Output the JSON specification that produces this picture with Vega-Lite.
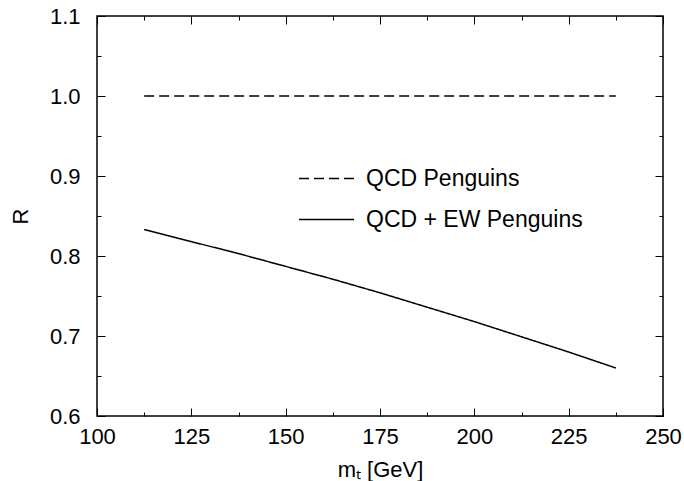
{
  "$schema": "https://vega.github.io/schema/vega-lite/v6.json",
  "width": 566,
  "height": 400,
  "autosize": "none",
  "padding": {"left": 97, "top": 16, "right": 21, "bottom": 65},
  "background": "white",
  "config": {
    "font": "Liberation Sans",
    "view": {"stroke": "black", "strokeWidth": 1.5},
    "axis": {
      "domain": false, "grid": false, "tickColor": "black", "tickWidth": 1,
      "labelFont": "Liberation Sans", "labelFontSize": 22, "labelColor": "black",
      "titleFont": "Liberation Sans", "titleFontSize": 22, "titleFontWeight": "normal", "titleColor": "black",
      "labelFlush": false, "labelOverlap": false
    },
    "legend": {"labelFont": "Liberation Sans", "labelFontSize": 23, "labelColor": "black", "labelLimit": 400}
  },
  "data": {
    "values": [
      {"series": "QCD Penguins", "m": 112.5, "R": 1.0},
      {"series": "QCD Penguins", "m": 237.5, "R": 1.0},
      {"series": "QCD + EW Penguins", "m": 112.5, "R": 0.833},
      {"series": "QCD + EW Penguins", "m": 125, "R": 0.818},
      {"series": "QCD + EW Penguins", "m": 137.5, "R": 0.803},
      {"series": "QCD + EW Penguins", "m": 150, "R": 0.787},
      {"series": "QCD + EW Penguins", "m": 162.5, "R": 0.771},
      {"series": "QCD + EW Penguins", "m": 175, "R": 0.754},
      {"series": "QCD + EW Penguins", "m": 187.5, "R": 0.736},
      {"series": "QCD + EW Penguins", "m": 200, "R": 0.718},
      {"series": "QCD + EW Penguins", "m": 212.5, "R": 0.699},
      {"series": "QCD + EW Penguins", "m": 225, "R": 0.68},
      {"series": "QCD + EW Penguins", "m": 237.5, "R": 0.66}
    ]
  },
  "resolve": {"axis": {"x": "independent", "y": "independent"}},
  "layer": [
    {
      "mark": {"type": "line", "color": "black", "strokeWidth": 1.5},
      "encoding": {
        "x": {"field": "m", "type": "quantitative",
              "scale": {"domain": [100, 250], "nice": false, "zero": false},
              "axis": {"orient": "bottom", "values": [100, 125, 150, 175, 200, 225, 250], "format": "d",
                       "offset": -8, "tickSize": 8, "labelPadding": 10, "title": "mₜ [GeV]", "titlePadding": 12}},
        "y": {"field": "R", "type": "quantitative",
              "scale": {"domain": [0.6, 1.1], "nice": false, "zero": false},
              "axis": {"orient": "left", "values": [0.6, 0.7, 0.8, 0.9, 1.0, 1.1], "format": ".1f",
                       "offset": -8, "tickSize": 8, "labelPadding": 17, "title": "R", "titlePadding": 17}},
        "strokeDash": {"field": "series", "type": "nominal",
                       "scale": {"domain": ["QCD Penguins", "QCD + EW Penguins"], "range": [[10, 5], [1, 0]]},
                       "legend": {"orient": "none", "legendX": 201, "legendY": 134, "title": null,
                                  "symbolType": "stroke", "symbolSize": 3025, "symbolStrokeWidth": 1.5,
                                  "symbolStrokeColor": "black", "labelOffset": 11, "rowPadding": -9, "padding": 0}}
      }
    },
    {
      "mark": {"type": "line", "opacity": 0},
      "encoding": {
        "x": {"field": "m", "type": "quantitative",
              "axis": {"orient": "top", "values": [100, 125, 150, 175, 200, 225, 250], "labels": false, "offset": -8, "tickSize": 8, "title": null}},
        "y": {"field": "R", "type": "quantitative",
              "axis": {"orient": "right", "values": [0.6, 0.7, 0.8, 0.9, 1.0, 1.1], "labels": false, "offset": -8, "tickSize": 8, "title": null}},
        "detail": {"field": "series"}
      }
    },
    {
      "mark": {"type": "line", "opacity": 0},
      "encoding": {
        "x": {"field": "m", "type": "quantitative",
              "axis": {"orient": "bottom", "values": [112.5, 137.5, 162.5, 187.5, 212.5, 237.5], "labels": false, "offset": -4, "tickSize": 4, "title": null}},
        "y": {"field": "R", "type": "quantitative",
              "axis": {"orient": "left", "values": [0.65, 0.75, 0.85, 0.95, 1.05], "labels": false, "offset": -4, "tickSize": 4, "title": null}},
        "detail": {"field": "series"}
      }
    },
    {
      "mark": {"type": "line", "opacity": 0},
      "encoding": {
        "x": {"field": "m", "type": "quantitative",
              "axis": {"orient": "top", "values": [112.5, 137.5, 162.5, 187.5, 212.5, 237.5], "labels": false, "offset": -4, "tickSize": 4, "title": null}},
        "y": {"field": "R", "type": "quantitative",
              "axis": {"orient": "right", "values": [0.65, 0.75, 0.85, 0.95, 1.05], "labels": false, "offset": -4, "tickSize": 4, "title": null}},
        "detail": {"field": "series"}
      }
    }
  ]
}
